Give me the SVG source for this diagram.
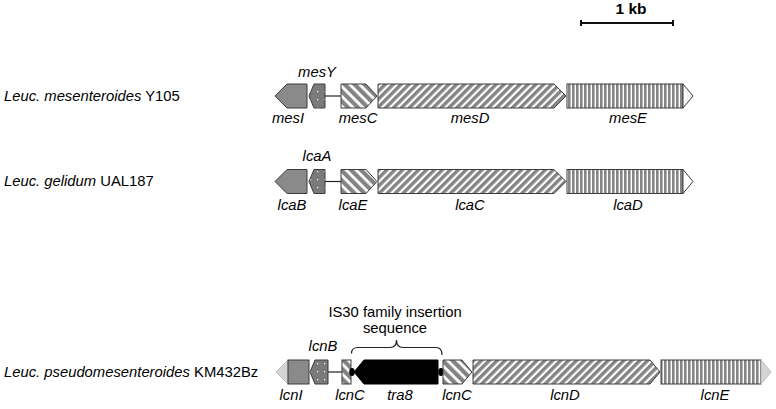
<svg xmlns="http://www.w3.org/2000/svg" width="776" height="409" viewBox="0 0 776 409">
<style>
text{font-family:"Liberation Sans",Arial,sans-serif;font-size:14.8px;fill:#000}
.g{font-style:italic;text-anchor:middle}
.o{stroke:#3c3c3c;stroke-width:1}
.solid{fill:#8a8a8a}
.dot{fill:url(#stip)}
.bs{fill:url(#back)}
.fs{fill:url(#fwd)}
.vs{fill:url(#vert)}
.lt{fill:#d4d4d4;stroke:#bdbdbd}
.wh{fill:#fff}
.ln{stroke:#222;stroke-width:1.2;fill:none}
</style>
<defs>
<pattern id="fwd" patternUnits="userSpaceOnUse" width="5.6" height="10" patternTransform="rotate(45)">
<rect width="5.6" height="10" fill="#fff"/><rect width="3.4" height="10" fill="#848484"/>
</pattern>
<pattern id="back" patternUnits="userSpaceOnUse" width="7" height="10" patternTransform="rotate(-45)">
<rect width="7" height="10" fill="#fff"/><rect width="4.2" height="10" fill="#848484"/>
</pattern>
<pattern id="vert" patternUnits="userSpaceOnUse" width="4" height="10">
<rect width="4" height="10" fill="#fff"/><rect width="2.6" height="10" fill="#858585"/>
</pattern>
<pattern id="stip" patternUnits="userSpaceOnUse" width="7" height="8">
<rect width="7" height="8" fill="#7a7a7a"/><rect x="2" y="3" width="1.2" height="1.2" fill="#fff"/>
</pattern>
</defs>

<g id="scalebar">
<text x="631" y="14" text-anchor="middle" style="font-weight:bold;font-size:15.5px">1 kb</text>
<path d="M581,23H673M581,20V26M673,20V26" fill="none" stroke="#111" stroke-width="2"/>
</g>

<g id="species">
<text x="4" y="101"><tspan font-style="italic">Leuc. mesenteroides</tspan> Y105</text>
<text x="4" y="186"><tspan font-style="italic">Leuc. gelidum</tspan> UAL187</text>
<text x="4" y="377"><tspan font-style="italic">Leuc. pseudomesenteroides</tspan> KM432Bz</text>
</g>

<g id="connectors">
<path d="M325,96H341" class="ln"/>
<path d="M325,181.5H341" class="ln"/>
<path d="M328,372H342" class="ln"/>
<path d="M351.5,353.5Q351.5,347.5 358,347.5H390Q396.5,347.5 396.5,340Q396.5,347.5 403,347.5H436Q442,347.5 442,355" class="ln"/>
</g>

<!-- Row 1 -->
<g id="mesI"><polygon class="o solid" points="275,96 287,84 307,84 307,108 287,108"/><text class="g" x="288" y="123">mesI</text></g>
<g id="mesY"><polygon class="o dot" points="309,96 314,84 325,84 325,108 314,108"/><text class="g" x="317" y="77">mesY</text></g>
<g id="mesC"><polygon class="o bs" points="341,84 366,84 377,96 366,108 341,108"/><text class="g" x="358" y="123">mesC</text></g>
<g id="mesD"><polygon class="o fs" points="378,84 554,84 566,96 554,108 378,108"/><text class="g" x="470" y="123">mesD</text></g>
<g id="mesE"><rect class="o vs" x="567" y="84" width="116" height="24"/><polygon class="o wh" points="683,84 693,96 683,108"/><text class="g" x="628" y="123">mesE</text></g>

<!-- Row 2 -->
<g id="lcaB"><polygon class="o solid" points="275,181.5 287,169.5 307,169.5 307,193.5 287,193.5"/><text class="g" x="292" y="210">lcaB</text></g>
<g id="lcaA"><polygon class="o dot" points="309,181.5 314,169.5 325,169.5 325,193.5 314,193.5"/><text class="g" x="317" y="161">lcaA</text></g>
<g id="lcaE"><polygon class="o bs" points="341,169.5 366,169.5 377,181.5 366,193.5 341,193.5"/><text class="g" x="353" y="210">lcaE</text></g>
<g id="lcaC"><polygon class="o fs" points="378,169.5 554,169.5 566,181.5 554,193.5 378,193.5"/><text class="g" x="470" y="210">lcaC</text></g>
<g id="lcaD"><rect class="o vs" x="567" y="169.5" width="116" height="24"/><polygon class="o wh" points="683,169.5 693,181.5 683,193.5"/><text class="g" x="628" y="210">lcaD</text></g>

<!-- Row 3 -->
<g id="IS30label">
<text x="395" y="317" text-anchor="middle">IS30 family insertion</text>
<text x="395" y="333" text-anchor="middle">sequence</text>
</g>
<g id="lcnI"><polygon class="lt" points="276,372 288,360 288,384"/><rect class="o solid" x="288" y="360" width="21" height="24"/><text class="g" x="291" y="400">lcnI</text></g>
<g id="lcnB"><polygon class="o dot" points="310,372 315,360 328,360 328,384 315,384"/><text class="g" x="323" y="351">lcnB</text></g>
<g id="lcnC1"><rect class="o bs" x="342" y="360" width="9" height="24"/><text class="g" x="350" y="400">lcnC</text></g>
<g id="tra8"><polygon fill="#000" stroke="#000" points="354,372 364,360 438,360 438,384 364,384"/><ellipse cx="352" cy="372" rx="2.8" ry="4" fill="#000"/><ellipse cx="441" cy="372" rx="2.8" ry="4" fill="#000"/><text class="g" x="400" y="400">tra8</text></g>
<g id="lcnC2"><polygon class="o bs" points="443,360 462,360 472,372 462,384 443,384"/><text class="g" x="457" y="400">lcnC</text></g>
<g id="lcnD"><polygon class="o fs" points="473,360 650,360 660,372 650,384 473,384"/><text class="g" x="565" y="400">lcnD</text></g>
<g id="lcnE"><rect class="o vs" x="661" y="360" width="100" height="24"/><polygon class="lt" points="761,360 771,372 761,384"/><text class="g" x="715" y="400">lcnE</text></g>
</svg>
